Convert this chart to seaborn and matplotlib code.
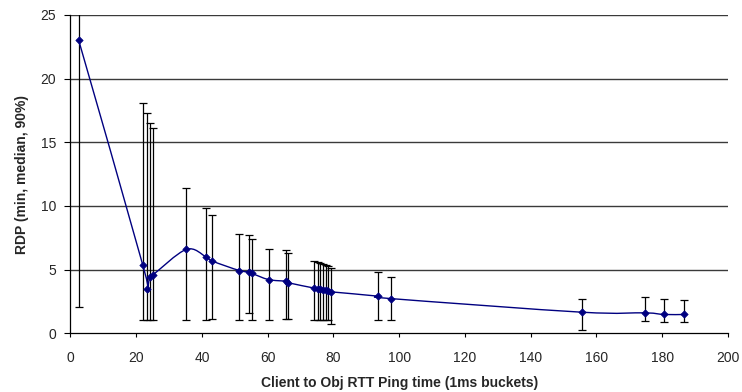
import numpy as np
import pandas as pd
import matplotlib
matplotlib.use("Agg")
import matplotlib.pyplot as plt
from matplotlib.path import Path
from matplotlib.patches import PathPatch
import seaborn as sns

# ---- data ----
rtt = [2.5, 22.0, 23.2, 24.1, 25.0, 35.2, 41.2, 43.2, 51.4, 54.4, 55.3, 60.3, 65.5, 66.3,
       74.2, 75.2, 76.0, 76.9, 77.7, 78.4, 79.2, 93.5, 97.4, 155.5, 174.7, 180.6, 186.5]
rdp_median = [23.0, 5.35, 3.45, 4.4, 4.56, 6.58, 6.0, 5.66, 4.92, 4.82, 4.69, 4.21, 4.08, 3.96,
              3.54, 3.51, 3.49, 3.43, 3.38, 3.30, 3.25, 2.91, 2.72, 1.65, 1.60, 1.47, 1.47]
rdp_p90 = [30.0, 18.05, 17.26, 16.5, 16.1, 11.37, 9.8, 9.28, 7.83, 7.75, 7.39, 6.65, 6.5, 6.31,
           5.64, 5.56, 5.48, 5.40, 5.35, 5.29, 5.14, 4.82, 4.43, 2.67, 2.85, 2.70, 2.64]
rdp_min = [2.07, 1.02, 1.02, 1.02, 1.02, 1.05, 1.02, 1.1, 1.0, 1.55, 1.0, 1.0, 1.1, 1.1,
           1.02, 1.02, 1.02, 1.02, 1.02, 1.02, 0.76, 1.02, 1.02, 0.29, 0.97, 0.87, 0.87]
x_ticks = [0, 20, 40, 60, 80, 100, 120, 140, 160, 180, 200]
y_ticks = [0, 5, 10, 15, 20, 25]

df = pd.DataFrame({"rtt": rtt, "median": rdp_median, "p90": rdp_p90, "min": rdp_min})

sns.set_theme(style="white")
plt.rcParams["font.family"] = ["Liberation Sans", "DejaVu Sans"]

fig = plt.figure(figsize=(7.42, 3.92), dpi=100)
ax = fig.add_axes([0.095, 0.150, 0.886, 0.812])

navy = "#000080"

# horizontal gridlines
for yv in y_ticks[1:]:
    ax.axhline(yv, color="#3a3a3a", lw=1.0, zorder=0)

# error bars (min .. 90%)
x = df["rtt"].to_numpy()
y = df["median"].to_numpy()
lo = y - df["min"].to_numpy()
hi = df["p90"].to_numpy() - y
ax.errorbar(x, y, yerr=[lo, hi], fmt="none", ecolor="black", elinewidth=0.9,
            capsize=3.2, capthick=0.9, zorder=2)

# smoothed line (Catmull-Rom style Bezier through the medians)
verts = [(x[0], y[0])]
codes = [Path.MOVETO]
n = len(x)
for i in range(n - 1):
    p0 = np.array([x[max(i - 1, 0)], y[max(i - 1, 0)]])
    p1 = np.array([x[i], y[i]])
    p2 = np.array([x[i + 1], y[i + 1]])
    p3 = np.array([x[min(i + 2, n - 1)], y[min(i + 2, n - 1)]])
    c1 = p1 + (p2 - p0) / 6.0
    c2 = p2 - (p3 - p1) / 6.0
    verts += [tuple(c1), tuple(c2), tuple(p2)]
    codes += [Path.CURVE4] * 3
ax.add_patch(PathPatch(Path(verts, codes), facecolor="none", edgecolor=navy, lw=1.0, zorder=3))

# markers
sns.scatterplot(data=df, x="rtt", y="median", ax=ax, marker="D", s=14, color=navy,
                edgecolor=navy, linewidth=0.5, zorder=4, legend=False)

ax.set_xlim(0, 200)
ax.set_ylim(0, 25)
ax.set_xticks(x_ticks)
ax.set_yticks(y_ticks)
ax.tick_params(axis="both", labelsize=10, width=0.8, color="black",
               direction="out", bottom=True, left=True)
ax.tick_params(axis="x", length=3, pad=10)
ax.tick_params(axis="y", length=4, pad=6.5)
ax.set_xlabel("Client to Obj RTT Ping time (1ms buckets)", fontsize=10, fontweight="bold", labelpad=7.5)
ax.set_ylabel("RDP (min, median, 90%)", fontsize=10, fontweight="bold", labelpad=8)

for s in ["top", "right"]:
    ax.spines[s].set_visible(False)
for s in ["left", "bottom"]:
    ax.spines[s].set_color("black")
    ax.spines[s].set_linewidth(0.9)

fig.savefig("out.png", dpi=100)
